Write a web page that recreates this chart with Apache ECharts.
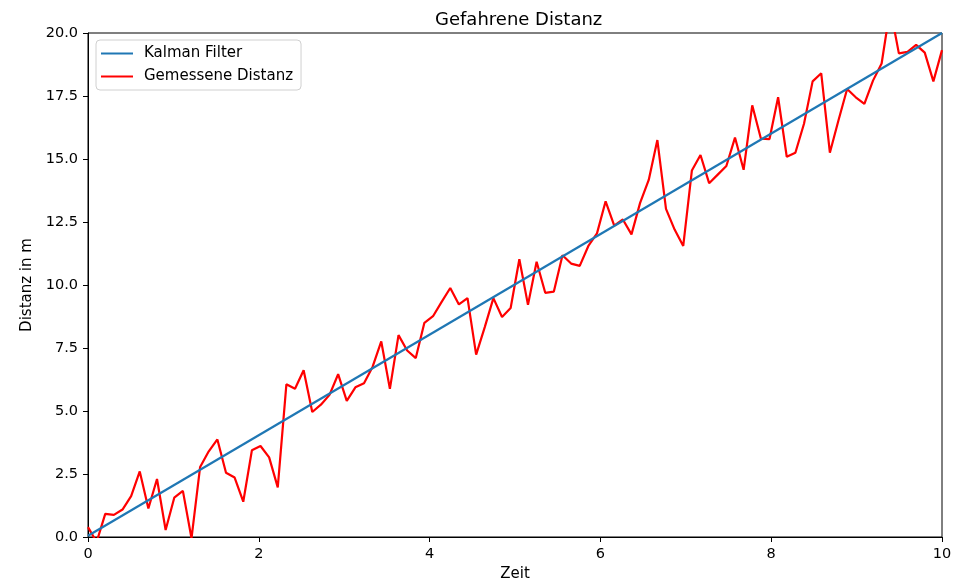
<!DOCTYPE html>
<html>
<head>
<meta charset="utf-8">
<script src="https://cdn.jsdelivr.net/npm/echarts@6/dist/echarts.min.js"></script>
<style>
html,body{margin:0;padding:0;background:#fff;}
#chart{width:963px;height:587px;}
</style>
</head>
<body>
<div id="chart"></div>
<script>
// Time points (Zeit)
const zeit = [0,0.101,0.202,0.303,0.404,0.505,0.606,0.707,0.808,0.909,
1.010,1.111,1.212,1.313,1.414,1.515,1.616,1.717,1.818,1.919,
2.020,2.121,2.222,2.323,2.424,2.525,2.626,2.727,2.828,2.929,
3.030,3.131,3.232,3.333,3.434,3.535,3.636,3.737,3.838,3.939,
4.040,4.141,4.242,4.343,4.444,4.545,4.646,4.747,4.848,4.949,
5.051,5.152,5.253,5.354,5.455,5.556,5.657,5.758,5.859,5.960,
6.061,6.162,6.263,6.364,6.465,6.566,6.667,6.768,6.869,6.970,
7.071,7.172,7.273,7.374,7.475,7.576,7.677,7.778,7.879,7.980,
8.081,8.182,8.283,8.384,8.485,8.586,8.687,8.788,8.889,8.990,
9.091,9.192,9.293,9.394,9.495,9.596,9.697,9.798,9.899,10];

// Gemessene Distanz (measured)
const gemessen = [0.39,-0.2,0.92,0.88,1.09,1.62,2.60,1.13,2.30,0.28,
1.56,1.83,-0.05,2.78,3.40,3.87,2.55,2.36,1.40,3.44,
3.61,3.16,1.97,6.06,5.88,6.62,4.96,5.25,5.64,6.46,
5.40,5.94,6.10,6.76,7.76,5.88,8.01,7.40,7.10,8.50,
8.76,9.33,9.88,9.23,9.48,7.24,8.33,9.48,8.73,9.09,
11.02,9.21,10.92,9.69,9.74,11.18,10.85,10.76,11.55,12.05,
13.32,12.36,12.60,12.01,13.26,14.17,15.75,13.02,12.20,11.55,
14.54,15.16,14.04,14.38,14.72,15.85,14.57,17.13,15.81,15.79,
17.45,15.09,15.25,16.40,18.08,18.40,15.25,16.54,17.78,17.45,
17.19,18.11,18.79,21.0,19.19,19.25,19.53,19.22,18.08,19.32];

// Kalman Filter (straight estimate, endpoints)
const kalmanZeit = [0, 10];
const kalmanWerte = [0.05, 20];

const xTicks = [0, 2, 4, 6, 8, 10];
const yTicks = [0, 2.5, 5, 7.5, 10, 12.5, 15, 17.5, 20];

const font = 'DejaVu Sans';
const chart = echarts.init(document.getElementById('chart'), null, {renderer: 'canvas'});

const measuredData = zeit.map((t, i) => [t, gemessen[i]]);
const kalmanData = kalmanZeit.map((t, i) => [t, kalmanWerte[i]]);

chart.setOption({
  animation: false,
  backgroundColor: '#fff',
  textStyle: {fontFamily: font},
  title: {
    text: 'Gefahrene Distanz',
    left: 430, top: 6,
    textStyle: {fontFamily: font, fontSize: 18, fontWeight: 'normal', color: '#000'}
  },
  legend: {
    orient: 'vertical',
    left: 96, top: 40,
    padding: [5, 8, 5, 5],
    itemGap: 6,
    itemWidth: 32, itemHeight: 2,
    backgroundColor: '#fff',
    borderColor: '#d0d0d0', borderWidth: 1, borderRadius: 4,
    textStyle: {fontFamily: font, fontSize: 15, lineHeight: 17, color: '#000', padding: [0, 0, 0, 6]},
    data: [
      {name: 'Kalman Filter', icon: 'rect'},
      {name: 'Gemessene Distanz', icon: 'rect'}
    ]
  },
  grid: {
    left: 88, top: 33, right: 21, bottom: 43,
    show: true, borderColor: '#000', borderWidth: 1, backgroundColor: 'transparent'
  },
  xAxis: {
    type: 'value', min: 0, max: 10, interval: 2,
    name: 'Zeit', nameLocation: 'middle', nameGap: 30,
    nameTextStyle: {fontFamily: font, fontSize: 15, color: '#000'},
    axisLine: {show: true, onZero: false, lineStyle: {color: '#000', width: 1}},
    axisTick: {show: true, length: 5, lineStyle: {color: '#000'}},
    axisLabel: {fontFamily: font, fontSize: 14.5, color: '#000', margin: 10,
      formatter: v => xTicks.includes(v) ? String(v) : ''},
    splitLine: {show: false}
  },
  yAxis: {
    type: 'value', min: 0, max: 20, interval: 2.5,
    name: 'Distanz in m', nameLocation: 'middle', nameGap: 52,
    nameTextStyle: {fontFamily: font, fontSize: 15, color: '#000'},
    axisLine: {show: true, onZero: false, lineStyle: {color: '#000', width: 1}},
    axisTick: {show: true, length: 5, lineStyle: {color: '#000'}},
    axisLabel: {fontFamily: font, fontSize: 14.5, color: '#000', margin: 10,
      formatter: v => yTicks.includes(v) ? v.toFixed(1) : ''},
    splitLine: {show: false}
  },
  series: [
    {
      name: 'Kalman Filter', type: 'line', data: kalmanData,
      showSymbol: false, symbol: 'none', clip: true,
      lineStyle: {color: '#1f77b4', width: 2.2}, itemStyle: {color: '#1f77b4'}, z: 3
    },
    {
      name: 'Gemessene Distanz', type: 'line', data: measuredData,
      showSymbol: false, symbol: 'none', clip: true,
      lineStyle: {color: '#ff0000', width: 2.2}, itemStyle: {color: '#ff0000'}, z: 2
    }
  ]
});
</script>
</body>
</html>
